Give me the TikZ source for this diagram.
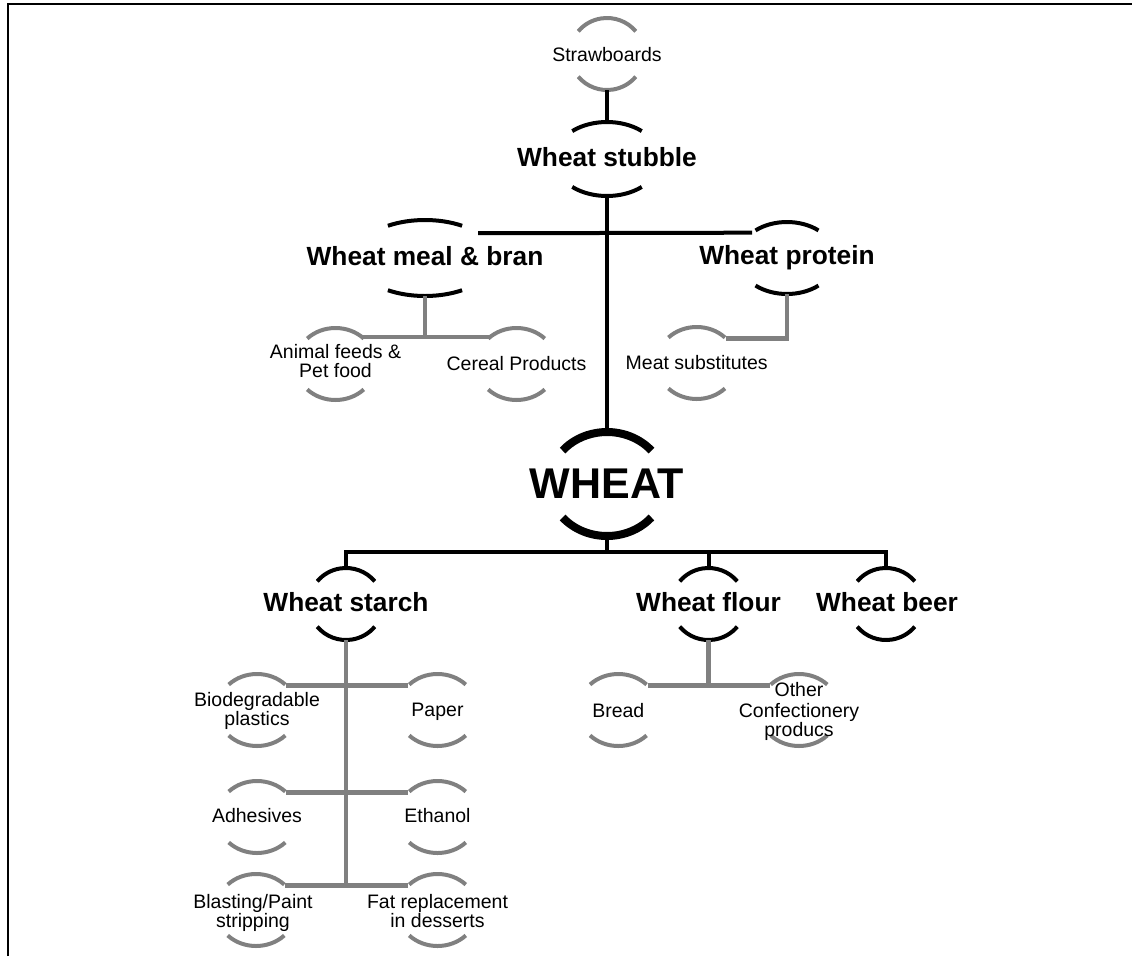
\documentclass[tikz,border=0pt]{standalone}
\usepackage{fontspec}
\setmainfont{Liberation Sans}
\usetikzlibrary{shapes.geometric}
\definecolor{branchgray}{RGB}{128,128,128}

% An invisible ellipse node with an arc drawn over its top and its bottom.
% #1 name, #2 x, #3 y (downwards), #4 x radius, #5 y radius, #6 arc half-opening, #7 arc style
\newcommand\hubnode[7]{%
  \node[hub, minimum width={2*#4pt}, minimum height={2*#5pt}] (#1) at (#2,-#3) {};
  \pgfmathsetmacro\hubEndA{180-#6}%
  \pgfmathsetmacro\hubStartB{180+#6}%
  \pgfmathsetmacro\hubEndB{360-#6}%
  \draw[#7] (#1.center) ++(#6:#4 and #5)
    arc[start angle=#6, end angle=\hubEndA, x radius=#4, y radius=#5];
  \draw[#7] (#1.center) ++(\hubStartB:#4 and #5)
    arc[start angle=\hubStartB, end angle=\hubEndB, x radius=#4, y radius=#5];
}

\begin{document}
\begin{tikzpicture}[x=1pt,y=1pt,
  hub/.style={ellipse, draw=none, inner sep=0pt, outer sep=0pt},
  blackcap/.style={draw=black, line width=4pt},
  graycap/.style={draw=branchgray, line width=4pt},
  rootcap/.style={draw=black, line width=8pt},
  trunk/.style={draw=black, line width=4.5pt},
  twig/.style={draw=branchgray, line width=4.5pt},
  lbl/.style={inner sep=0pt, align=center, font=\fontsize{19.5}{19}\selectfont},
  head/.style={inner sep=0pt, font=\bfseries\fontsize{26.3}{30}\selectfont},
  roottext/.style={inner sep=0pt, font=\bfseries\fontsize{43}{48}\selectfont},
]
\useasboundingbox (0,0) rectangle (1132,-956);
\draw[line width=1.5pt] (7.75,-956) -- (7.75,-4) -- (1132,-4);

% upper half
\hubnode{straw}{607}{54}{37}{36}{39}{graycap}
\hubnode{stubble}{607}{159}{53}{37}{49}{blackcap}
\hubnode{meal}{425}{258}{70}{38}{58}{blackcap}
\hubnode{protein}{787}{258}{49}{36}{50}{blackcap}
\hubnode{animal}{335.5}{364}{40}{36}{45}{graycap}
\hubnode{cereal}{516.5}{364}{40}{36}{45}{graycap}
\hubnode{meat}{696.7}{363}{40}{36}{45}{graycap}
% root
\hubnode{wheat}{607}{484}{58}{52}{40}{rootcap}
% lower half
\hubnode{starch}{346}{604}{37}{36}{39}{blackcap}
\hubnode{flour}{708.5}{604}{37}{36}{39}{blackcap}
\hubnode{beer}{886}{604}{37}{36}{39}{blackcap}
\hubnode{biodeg}{257}{710}{40}{36}{45}{graycap}
\hubnode{paper}{437.5}{710}{40}{36}{45}{graycap}
\hubnode{adhes}{257}{817}{40}{36}{45}{graycap}
\hubnode{ethanol}{437.5}{817}{40}{36}{45}{graycap}
\hubnode{blast}{256}{910}{40}{36}{45}{graycap}
\hubnode{fat}{437.5}{910}{40}{36}{45}{graycap}
\hubnode{bread}{618.3}{710}{40}{36}{45}{graycap}
\hubnode{other}{799}{710}{40}{36}{45}{graycap}

% black connectors
\coordinate (bar) at (607,-552);
\draw[trunk] (straw) -- (stubble);
\draw[trunk] (stubble) -- (wheat);
\draw[trunk, line width=4pt] (meal.25.4) -- (protein.144.7);
\draw[trunk, line width=4pt] (wheat) -- (bar);
\draw[trunk, line width=4pt] (starch) |- (bar) -| (beer);
\draw[trunk, line width=4pt] (flour) -- (flour |- bar);

% gray connectors
\draw[twig] (meal) -- (meal |- animal.45);
\draw[twig] (animal.45) -- (cereal.135);
\draw[twig] (protein) |- (meat.40);
\draw[twig] (starch) -- (starch |- blast.40);
\draw[twig] (biodeg.40) -- (paper.140);
\draw[twig] (adhes.40) -- (ethanol.140);
\draw[twig] (blast.40) -- (fat.140);
\draw[twig] (flour) -- (flour |- bread.40);
\draw[twig] (bread.40) -- (other.140);

% labels (multi-line labels sit on the baseline of their last line)
\node[lbl, anchor=base] (strawtext) at (607,-61) {Strawboards};
\node[head, anchor=base] (stubbletext) at (607,-166.7) {Wheat stubble};
\node[head, anchor=base] (mealtext) at (425,-265.5) {Wheat meal \& bran};
\node[head, anchor=base] (proteintext) at (787,-264.5) {Wheat protein};
\node[lbl, anchor=base] (animaltext) at (335.5,-377.5) {Animal feeds \&\\Pet food};
\node[lbl, anchor=base] (cerealtext) at (516.5,-370.5) {Cereal Products};
\node[lbl, anchor=base] (meattext) at (696.7,-369.5) {Meat substitutes};
\node[roottext, anchor=base] (wheattext) at (607,-498) {WHEAT};
\node[head, anchor=base] (starchtext) at (346,-611.7) {Wheat starch};
\node[head, anchor=base] (flourtext) at (708.5,-611.7) {Wheat flour};
\node[head, anchor=base] (beertext) at (887,-611.7) {Wheat beer};
\node[lbl, anchor=base] (biodegtext) at (257,-725.7) {Biodegradable\\plastics};
\node[lbl, anchor=base] (papertext) at (437.5,-716.7) {Paper};
\node[lbl, anchor=base] (breadtext) at (618.3,-717.3) {Bread};
\node[lbl, anchor=base] (othertext) at (799,-736.7) {Other\\[1.3pt]Confectionery\\[0.5pt]producs};
\node[lbl, anchor=base] (adhestext) at (257,-822.7) {Adhesives};
\node[lbl, anchor=base] (ethanoltext) at (437.5,-822.7) {Ethanol};
\node[lbl, anchor=base] (blasttext) at (253,-927.5) {Blasting/Paint\\stripping};
\node[lbl, anchor=base] (fattext) at (437.5,-927.5) {Fat replacement\\in desserts};
\end{tikzpicture}
\end{document}
